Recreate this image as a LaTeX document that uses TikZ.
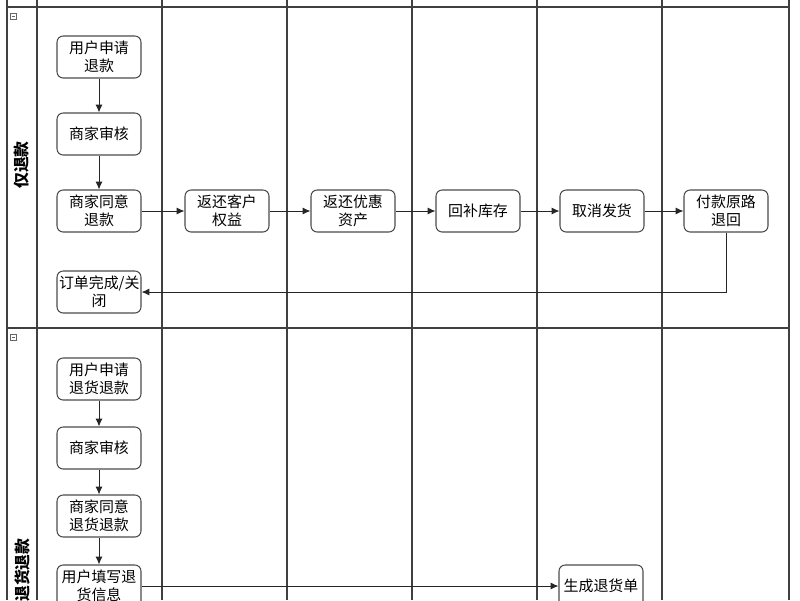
\documentclass[tikz,border=0pt]{standalone}
\usepackage{fontspec}
\setmainfont{Noto Sans CJK SC}
\usetikzlibrary{arrows.meta}
\begin{document}
\begin{tikzpicture}[x=0.02cm, y=-0.02cm,
		lane/.style={draw=black!75, line width=0.7pt},
		stepbox/.style={draw=black!70, line width=0.6pt, rounded corners=3.5pt, minimum width=1.68cm, minimum height=0.84cm, text width=1.6cm, align=center, inner sep=1pt, font=\fontsize{8.5}{10.5}\selectfont},
		flow/.style={draw=black!85, line width=0.55pt, -{Latex[length=4.5pt, width=4pt]}},
		lanename/.style={rotate=90, font=\fontsize{9}{11}\selectfont\bfseries}]
		\useasboundingbox (0, 0) rectangle (800, 600);
		\clip (0, 0) rectangle (800, 600);
		\fill[white] (0, 0) rectangle (800, 600);
		\foreach \x in {7, 37, 162, 287, 412, 537, 662, 789} {
			\draw[lane] (\x, 0) -- (\x, 600);
		}
		\draw[lane] (7, 7) -- (789, 7);
		\draw[lane] (7, 328) -- (789, 328);
		\foreach \y in {16, 337} {
			\draw[black!60, line width=0.3pt] (10, \y-3) rectangle (16, \y+3) (11.5, \y) -- (14.5, \y);
		}
		\node[lanename] (laneA) at (22, 165) {仅退款};
		\node[lanename] (laneB) at (22, 570) {退货退款};
		% 仅退款
		\node[stepbox] (apply) at (99, 57) {用户申请\\退款};
		\node[stepbox] (check) at (99, 134) {商家审核};
		\node[stepbox] (agree) at (99, 211) {商家同意\\退款};
		\node[stepbox] (rights) at (227, 211) {返还客户\\权益};
		\node[stepbox] (coupon) at (353, 211) {返还优惠\\资产};
		\node[stepbox] (stock) at (478, 211) {回补库存};
		\node[stepbox] (cancel) at (602, 211) {取消发货};
		\node[stepbox] (refund) at (726, 211) {付款原路\\退回};
		\node[stepbox] (close) at (99, 292) {订单完成/关\\闭};
		\draw[flow] (apply) -- (check);
		\draw[flow] (check) -- (agree);
		\draw[flow] (agree) -- (rights);
		\draw[flow] (rights) -- (coupon);
		\draw[flow] (coupon) -- (stock);
		\draw[flow] (stock) -- (cancel);
		\draw[flow] (cancel) -- (refund);
		\draw[flow] (refund) |- (close);
		% 退货退款
		\node[stepbox] (apply2) at (99, 379) {用户申请\\退货退款};
		\node[stepbox] (check2) at (99, 448) {商家审核};
		\node[stepbox] (agree2) at (99, 516) {商家同意\\退货退款};
		\node[stepbox] (fill2) at (99, 586) {用户填写退\\货信息};
		\node[stepbox] (bill2) at (601, 586) {生成退货单};
		\draw[flow] (apply2) -- (check2);
		\draw[flow] (check2) -- (agree2);
		\draw[flow] (agree2) -- (fill2);
		\draw[flow] (fill2) -- (bill2);
	\end{tikzpicture}
\end{document}
